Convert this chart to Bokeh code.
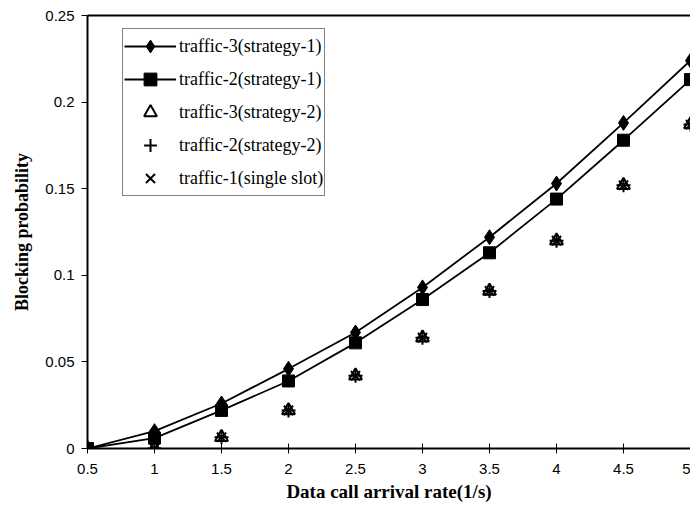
from bokeh.embed import file_html
from bokeh.models import FixedTicker, Legend, LegendItem, LinearAxis, Range1d
from bokeh.plotting import figure
from bokeh.resources import INLINE

# Data call arrival rate (1/s)
arrival_rate = [0.5, 1.0, 1.5, 2.0, 2.5, 3.0, 3.5, 4.0, 4.5, 5.0]

# Blocking probability per scheme
traffic3_strategy1 = [0.0, 0.010, 0.026, 0.046, 0.067, 0.093, 0.122, 0.153, 0.188, 0.224]
traffic2_strategy1 = [0.0, 0.006, 0.022, 0.039, 0.061, 0.086, 0.113, 0.144, 0.178, 0.213]
traffic3_strategy2 = [0.0, 0.0, 0.0065, 0.022, 0.042, 0.064, 0.091, 0.120, 0.152, 0.187]
traffic2_strategy2 = [0.0, 0.0, 0.0065, 0.022, 0.042, 0.064, 0.091, 0.120, 0.152, 0.187]
traffic1_single_slot = [0.0, 0.0, 0.0065, 0.022, 0.042, 0.064, 0.091, 0.120, 0.152, 0.187]

x_tick_values = [0.5, 1.0, 1.5, 2.0, 2.5, 3.0, 3.5, 4.0, 4.5, 5.0]
x_tick_labels = ["0.5", "1", "1.5", "2", "2.5", "3", "3.5", "4", "4.5", "5"]
y_tick_values = [0.0, 0.05, 0.1, 0.15, 0.2, 0.25]
y_tick_labels = ["0", "0.05", "0.1", "0.15", "0.2", "0.25"]

series_labels = [
    "traffic-3(strategy-1)",
    "traffic-2(strategy-1)",
    "traffic-3(strategy-2)",
    "traffic-2(strategy-2)",
    "traffic-1(single slot)",
]

TICK_FONT = "Liberation Sans"
TEXT_FONT = "Liberation Serif"

p = figure(
    width=690,
    height=505,
    x_range=Range1d(0.5, 5.0),
    y_range=Range1d(0.0, 0.25),
    output_backend="svg",
    toolbar_location=None,
    min_border_left=87,
    min_border_right=0,
    min_border_top=15,
    min_border_bottom=57,
)
p.background_fill_color = "white"
p.border_fill_color = "white"
p.outline_line_color = None
p.xgrid.visible = False
p.ygrid.visible = False

# x axis: ticks crossing the axis line
xa = p.xaxis[0]
xa.ticker = FixedTicker(ticks=x_tick_values)
xa.major_label_overrides = {v: s for v, s in zip(x_tick_values, x_tick_labels)}
xa.axis_label = "Data call arrival rate(1/s)"
xa.axis_line_width = 2
xa.axis_line_color = "black"
xa.major_tick_in = 5
xa.major_tick_out = 5
xa.major_tick_line_color = "black"
xa.minor_tick_line_color = None
xa.major_label_standoff = 10
xa.major_label_text_font = TICK_FONT
xa.major_label_text_font_size = "15px"
xa.major_label_text_color = "black"
xa.axis_label_text_font = TEXT_FONT
xa.axis_label_text_font_style = "bold"
xa.axis_label_text_font_size = "19px"
xa.axis_label_text_color = "black"
xa.axis_label_standoff = 4

# y axis: ticks outside only
ya = p.yaxis[0]
ya.ticker = FixedTicker(ticks=y_tick_values)
ya.major_label_overrides = {v: s for v, s in zip(y_tick_values, y_tick_labels)}
ya.axis_label = "Blocking probability"
ya.axis_line_width = 2
ya.axis_line_color = "black"
ya.major_tick_in = 0
ya.major_tick_out = 6
ya.major_tick_line_color = "black"
ya.minor_tick_line_color = None
ya.major_label_standoff = 7
ya.major_label_text_font = TICK_FONT
ya.major_label_text_font_size = "15px"
ya.major_label_text_color = "black"
ya.axis_label_text_font = TEXT_FONT
ya.axis_label_text_font_style = "bold"
ya.axis_label_text_font_size = "18px"
ya.axis_label_text_color = "black"
ya.axis_label_standoff = 10

# plain top border line
top = LinearAxis(
    ticker=FixedTicker(ticks=[]),
    axis_line_width=2,
    axis_line_color="black",
    major_tick_in=0,
    major_tick_out=0,
    minor_tick_in=0,
    minor_tick_out=0,
    major_label_text_font_size="0px",
    major_label_standoff=0,
)
p.add_layout(top, "above")

# strategy-1 curves with filled markers
l3 = p.line(arrival_rate, traffic3_strategy1, line_color="black", line_width=1.8)
m3 = p.scatter(arrival_rate, traffic3_strategy1, marker="diamond",
               size=15, fill_color="black", line_color="black")
l2 = p.line(arrival_rate, traffic2_strategy1, line_color="black", line_width=1.8)
m2 = p.scatter(arrival_rate, traffic2_strategy1, marker="square",
               size=12, fill_color="black", line_color="black")

# strategy-2 and single-slot points
t3 = p.scatter(arrival_rate, traffic3_strategy2, marker="triangle", size=13,
               fill_color=None, line_color="black", line_width=2)
t2 = p.scatter(arrival_rate, traffic2_strategy2, marker="cross", size=14,
               line_color="black", line_width=2)
t1 = p.scatter(arrival_rate, traffic1_single_slot, marker="x", size=13,
               line_color="black", line_width=2)

legend = Legend(
    items=[
        LegendItem(label=series_labels[0], renderers=[l3, m3]),
        LegendItem(label=series_labels[1], renderers=[l2, m2]),
        LegendItem(label=series_labels[2], renderers=[t3]),
        LegendItem(label=series_labels[3], renderers=[t2]),
        LegendItem(label=series_labels[4], renderers=[t1]),
    ],
    location=(35, 252),
    orientation="vertical",
    border_line_color="black",
    border_line_width=1,
    background_fill_color="white",
    background_fill_alpha=1.0,
    label_text_font=TEXT_FONT,
    label_text_font_size="18px",
    label_text_color="black",
    label_standoff=3,
    label_width=127,
    glyph_width=52,
    glyph_height=32,
    spacing=1,
    padding=1,
    margin=0,
)
p.add_layout(legend, "center")

open("out.html", "w").write(file_html(p, INLINE))
